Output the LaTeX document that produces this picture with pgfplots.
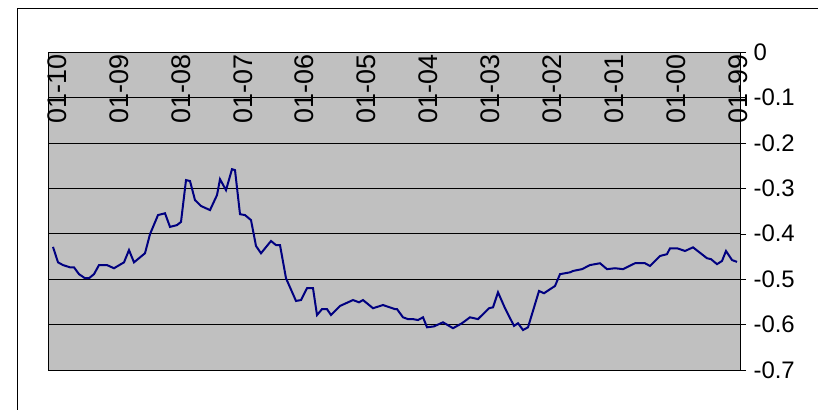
\documentclass[border=0pt]{standalone}
\usepackage{pgfplots}
\pgfplotsset{compat=1.18}
\usepackage{fontspec}
\setmainfont{Liberation Sans}
\definecolor{navy}{RGB}{0,0,128}
\definecolor{plotgray}{RGB}{192,192,192}
\tikzset{lab/.style={rotate=90, anchor=east, inner sep=2bp, font=\fontsize{27}{27}\selectfont}}
\begin{document}
\begin{tikzpicture}[x=1bp,y=1bp]
\useasboundingbox (0,0) rectangle (818,409);
\fill[white] (0,0) rectangle (818,409);
\draw[black,line width=0.8bp] (17,-1) -- (17,401) -- (819,401);
\begin{axis}[at={(48bp,39bp)},anchor=south west,
  scale only axis, width=692bp, height=318bp,
  xmin=48, xmax=740, ymin=-0.7, ymax=0,
  axis background/.style={fill=plotgray},
  xtick=\empty, ytick={-0.7,-0.6,...,0},
  yticklabel pos=right, ytick pos=right,
  yticklabel style={/pgf/number format/fixed,/pgf/number format/precision=1, font=\fontsize{24}{24}\selectfont, xshift=4bp},
  /pgf/number format/assume math mode=true,
  ytick style={black}, tick align=outside, major tick length=6bp,
  ymajorgrids, grid style={black, line width=0.7bp},
  axis line style={black, line width=0.8bp},
  clip=false]
\addplot[navy, line width=2bp] coordinates {
(53,-0.429)(58,-0.463)(63,-0.469)(70,-0.474)(74,-0.474)(79,-0.489)(85,-0.498)(89,-0.498)(94,-0.489)(99,-0.469)(107,-0.469)(114,-0.476)(124,-0.463)(129,-0.436)(134,-0.463)(145,-0.443)(150,-0.401)(158,-0.359)(165,-0.355)(170,-0.385)(177,-0.381)(181,-0.374)(186,-0.282)(190,-0.284)(195,-0.326)(201,-0.339)(210,-0.348)(217,-0.315)(220,-0.280)(226,-0.304)(232,-0.258)(235,-0.260)(240,-0.357)(245,-0.359)(251,-0.370)(256,-0.427)(261,-0.443)(271,-0.416)(276,-0.425)(280,-0.425)(286,-0.498)(296,-0.548)(301,-0.546)(307,-0.520)(313,-0.520)(317,-0.579)(322,-0.566)(327,-0.566)(331,-0.579)(340,-0.559)(353,-0.546)(359,-0.551)(363,-0.546)(373,-0.564)(383,-0.557)(395,-0.566)(397,-0.566)(403,-0.584)(408,-0.588)(413,-0.588)(418,-0.590)(423,-0.584)(427,-0.606)(434,-0.604)(443,-0.595)(453,-0.608)(462,-0.597)(470,-0.584)(478,-0.588)(489,-0.564)(493,-0.562)(498,-0.529)(505,-0.564)(514,-0.603)(518,-0.597)(523,-0.612)(528,-0.606)(539,-0.526)(544,-0.531)(555,-0.515)(560,-0.489)(570,-0.485)(573,-0.482)(582,-0.478)(590,-0.469)(600,-0.465)(607,-0.478)(615,-0.476)(623,-0.478)(635,-0.465)(645,-0.465)(650,-0.471)(660,-0.449)(667,-0.445)(670,-0.432)(677,-0.432)(685,-0.438)(693,-0.430)(707,-0.454)(711,-0.456)(717,-0.467)(722,-0.460)(726,-0.438)(732,-0.458)(737,-0.462)
};
\node[lab] at (axis cs:738,0) {01-99};
\node[lab] at (axis cs:676.1,0) {01-00};
\node[lab] at (axis cs:614.2,0) {01-01};
\node[lab] at (axis cs:552.3,0) {01-02};
\node[lab] at (axis cs:490.4,0) {01-03};
\node[lab] at (axis cs:428.5,0) {01-04};
\node[lab] at (axis cs:366.6,0) {01-05};
\node[lab] at (axis cs:304.7,0) {01-06};
\node[lab] at (axis cs:242.8,0) {01-07};
\node[lab] at (axis cs:180.9,0) {01-08};
\node[lab] at (axis cs:119.0,0) {01-09};
\node[lab] at (axis cs:57.1,0) {01-10};
\end{axis}
\end{tikzpicture}
\end{document}
